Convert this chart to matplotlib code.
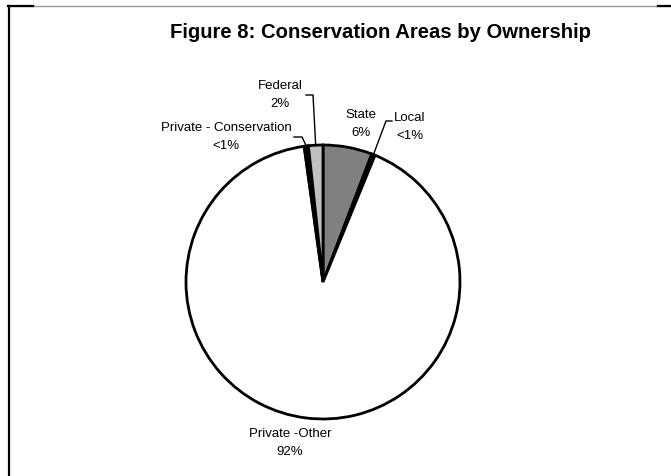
import numpy as np
import matplotlib
matplotlib.use("Agg")
import matplotlib.pyplot as plt
from matplotlib.lines import Line2D

plt.rcParams["font.family"] = ["Liberation Sans", "DejaVu Sans"]

# Ownership shares (percent), clockwise from 12 o'clock
categories = ["State", "Local", "Private -Other", "Private - Conservation", "Federal"]
shares = [5.8, 0.4, 91.6, 0.5, 1.7]
share_labels = ["6%", "<1%", "92%", "<1%", "2%"]
colors = ["#808080", "#000000", "#ffffff", "#000000", "#c0c0c0"]

W, H = 671, 476
fig = plt.figure(figsize=(W / 100, H / 100), dpi=100)

# pie axes: centre (323, 282) px, radius 137 px
cx, cy, r = 323, 282, 137
ax = fig.add_axes([(cx - r) / W, (H - cy - r) / H, 2 * r / W, 2 * r / H])
wedges, _ = ax.pie(shares, colors=colors, startangle=90, counterclock=False,
                   radius=1.0,
                   wedgeprops=dict(edgecolor="black", linewidth=2.0))
ax.set_xlim(-1, 1)
ax.set_ylim(-1, 1)
ax.set_aspect("equal")
ax.axis("off")


def px(x, y):
    """pixel position -> pie data coordinates"""
    return (x - cx) / r, (cy - y) / r


def mid_point(w):
    ang = np.deg2rad((w.theta1 + w.theta2) / 2)
    return np.cos(ang), np.sin(ang)


# label text positions (pixel centres)
label_pos = {
    "State": (361, 124),
    "Local": (410, 127),
    "Private -Other": (290, 443),
    "Private - Conservation": (226, 137),
    "Federal": (280, 95),
}
for name, pct in zip(categories, share_labels):
    x, y = px(*label_pos[name])
    ax.text(x, y, f"{name}\n{pct}", ha="center", va="center", fontsize=9.5,
            linespacing=1.6, clip_on=False)

# leader lines from labels to the slice midpoints
leaders = {
    "Federal": [(306, 95), (313, 95)],
    "Private - Conservation": [(294, 137), (302, 137)],
    "Local": [(392, 121), (386, 121)],
}
for name, pts in leaders.items():
    w = wedges[categories.index(name)]
    mx, my = mid_point(w)
    xs = [px(*p)[0] for p in pts] + [mx]
    ys = [px(*p)[1] for p in pts] + [my]
    ax.plot(xs, ys, color="black", lw=1.0, clip_on=False, solid_joinstyle="miter")

# title
fig.text(381 / W, 1 - 32 / H, "Figure 8: Conservation Areas by Ownership",
         ha="center", va="center", fontsize=14.6, fontweight="bold")

# chart frame
ty = 1 - 5.5 / H
fig.add_artist(Line2D([8 / W, 1], [ty, ty], color="#9a9a9a", lw=1.0))
fig.add_artist(Line2D([8 / W, 33 / W], [ty, ty], color="black", lw=1.6))
fig.add_artist(Line2D([658 / W, 1], [ty, ty], color="black", lw=1.6))
fig.add_artist(Line2D([8.5 / W, 8.5 / W], [0, ty], color="black", lw=1.6))

fig.savefig("out.png", dpi=100, facecolor="white")
